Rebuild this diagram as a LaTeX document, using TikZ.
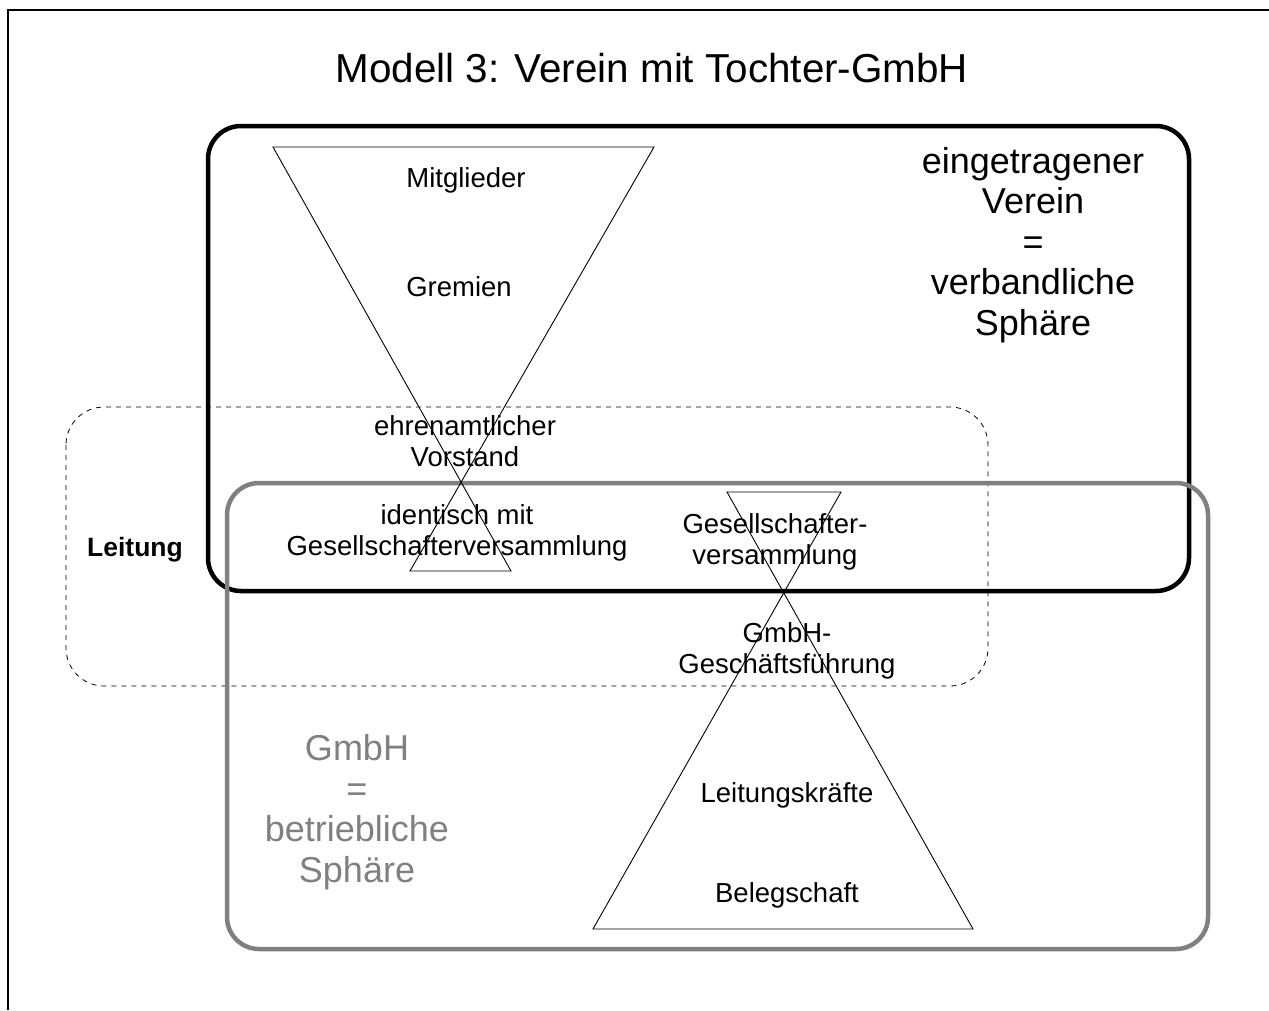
\documentclass[tikz,border=0pt]{standalone}
\usepackage{fontspec}
\setmainfont{Liberation Sans}
\begin{document}
\begin{tikzpicture}[x=1pt,y=-1pt,
  lbl/.style={inner sep=0pt,align=center,font=\fontsize{27.5}{31}\selectfont},
  big/.style={inner sep=0pt,align=center,font=\fontsize{36}{40.5}\selectfont},
  hglass/.style={line width=0.9pt,black},
  vereinbox/.style={line width=4.5pt,rounded corners=33pt,black},
  gmbhbox/.style={line width=4.5pt,rounded corners=32pt,color={rgb,255:red,128;green,128;blue,128}},
  leitbox/.style={line width=0.8pt,rounded corners=38pt,dash pattern=on 5pt off 5pt,black}]
\useasboundingbox (0,0) rectangle (1269,1010);
% page frame (top and left edges)
\draw[line width=1.2pt] (8,1010) -- (8,10) -- (1269,10);

% title
\node[font=\fontsize{40.4}{44}\selectfont,inner sep=0pt] (title) at (652,68) {Modell 3: Verein mit Tochter-GmbH};

% areas
\draw[leitbox] (66,407) rectangle (988,686);
\draw[vereinbox] (208,126) rectangle (1189,591);
\draw[gmbhbox] (227,483) rectangle (1208,949);

% texts
\node[lbl] (mitglieder) at (466,180) {Mitglieder};
\node[lbl] (gremien) at (459,287) {Gremien};
\node[lbl] (vorstand) at (465,441) {ehrenamtlicher\\Vorstand};
\node[lbl] (identisch) at (457,533) {identisch mit\\Gesellschafterversammlung};
\node[lbl] (gesv) at (775,542) {Gesellschafter-\\versammlung};
\node[lbl] (gf) at (787,651) {GmbH-\\Geschäftsführung};
\node[lbl] (lk) at (787,795) {Leitungskräfte};
\node[lbl] (beleg) at (787,895) {Belegschaft};
\node[lbl,font=\fontsize{26.5}{30}\selectfont\bfseries] (leitung) at (135,550) {Leitung};
\node[big] (verein) at (1033,245) {eingetragener\\Verein\\=\\verbandliche\\Sphäre};
\node[big,text={rgb,255:red,128;green,128;blue,128}] (gmbh) at (357,812) {GmbH\\=\\betriebliche\\Sphäre};

% hourglass of the association
\coordinate (vtl) at (273,147);
\coordinate (vtr) at (654,147);
\coordinate (vbl) at (410,571);
\coordinate (vbr) at (511,571);
\draw[hglass] (vtl) -- (vtr) -- (vbl) -- (vbr) -- cycle;

% hourglass of the GmbH
\coordinate (gtl) at (727,492);
\coordinate (gtr) at (841,492);
\coordinate (gbl) at (593,929);
\coordinate (gbr) at (973,929);
\draw[hglass] (gtl) -- (gtr) -- (gbl) -- (gbr) -- cycle;
\end{tikzpicture}
\end{document}
